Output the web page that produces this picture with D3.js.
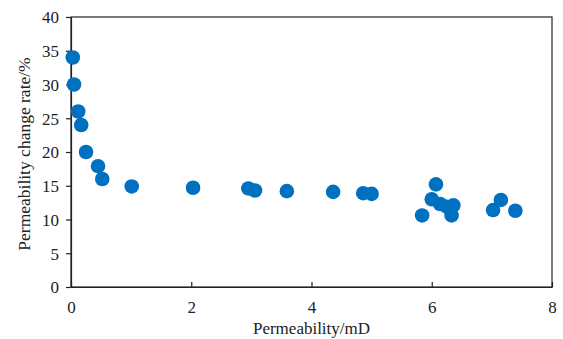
<!DOCTYPE html>
<html>
<head>
<meta charset="utf-8">
<script src="https://cdn.jsdelivr.net/npm/d3@7"></script>
<style>
  body { margin: 0; background: #fff; }
  text { font-family: "Liberation Serif", "Times New Roman", serif; fill: #222; }
</style>
</head>
<body>
<script>
// permeability (mD) vs permeability change rate (%)
var permeability = [0.03, 0.05, 0.12, 0.17, 0.25, 0.45, 0.52, 1.01, 2.03, 2.95, 3.06, 3.59, 4.36, 4.86, 5.0,
                    5.84, 6.07, 6.0, 6.14, 6.25, 6.36, 6.33, 7.02, 7.15, 7.39];
var changeRate = [34, 30, 26, 24, 20, 17.9, 16, 14.9, 14.7, 14.6, 14.3, 14.2, 14.1, 13.9, 13.8,
                  10.6, 15.2, 13.0, 12.3, 11.9, 12.1, 10.6, 11.4, 12.9, 11.3];
var xTicks = [0, 2, 4, 6, 8];
var yTicks = [0, 5, 10, 15, 20, 25, 30, 35, 40];

var width = 563, height = 339;
var margin = {left: 71, right: 11, top: 17, bottom: 52};

var svg = d3.select('body').append('svg')
  .attr('width', width)
  .attr('height', height);

var x = d3.scaleLinear().domain([0, 8]).range([margin.left, width - margin.right]);
var y = d3.scaleLinear().domain([0, 40]).range([height - margin.bottom, margin.top]);

// frame
svg.append('rect')
  .attr('x', x(0)).attr('y', y(40))
  .attr('width', x(8) - x(0)).attr('height', y(0) - y(40))
  .attr('fill', 'none').attr('stroke', '#222').attr('stroke-width', 1.2);

var xAxis = svg.append('g')
  .attr('transform', 'translate(0,' + y(0) + ')')
  .call(d3.axisBottom(x).tickValues(xTicks).tickSizeInner(-5).tickSizeOuter(0).tickPadding(14));
var yAxis = svg.append('g')
  .attr('transform', 'translate(' + x(0) + ',0)')
  .call(d3.axisLeft(y).tickValues(yTicks).tickSizeInner(5).tickSizeOuter(0).tickPadding(7));

[xAxis, yAxis].forEach(function(g) {
  g.select('.domain').attr('stroke', '#222').attr('stroke-width', 1.2);
  g.selectAll('.tick line').attr('stroke', '#222').attr('stroke-width', 1.2);
  g.selectAll('.tick text').style('font-size', '17px').attr('fill', '#222')
    .style('font-family', '"Liberation Serif", serif');
});
yAxis.selectAll('.tick text').attr('dy', '0.35em');

// points
svg.append('g').selectAll('circle')
  .data(permeability)
  .enter()
  .append('circle')
  .attr('cx', function(d) { return x(d); })
  .attr('cy', function(d, i) { return y(changeRate[i]); })
  .attr('r', 7.3)
  .attr('fill', '#0070C0');

svg.append('text')
  .attr('x', (x(0) + x(8)) / 2).attr('y', 334)
  .attr('text-anchor', 'middle')
  .style('font-size', '17px')
  .text('Permeability/mD');

svg.append('text')
  .attr('transform', 'translate(30,154) rotate(-90)')
  .attr('text-anchor', 'middle')
  .style('font-size', '17.5px')
  .text('Permeability change rate/%');
</script>
</body>
</html>
